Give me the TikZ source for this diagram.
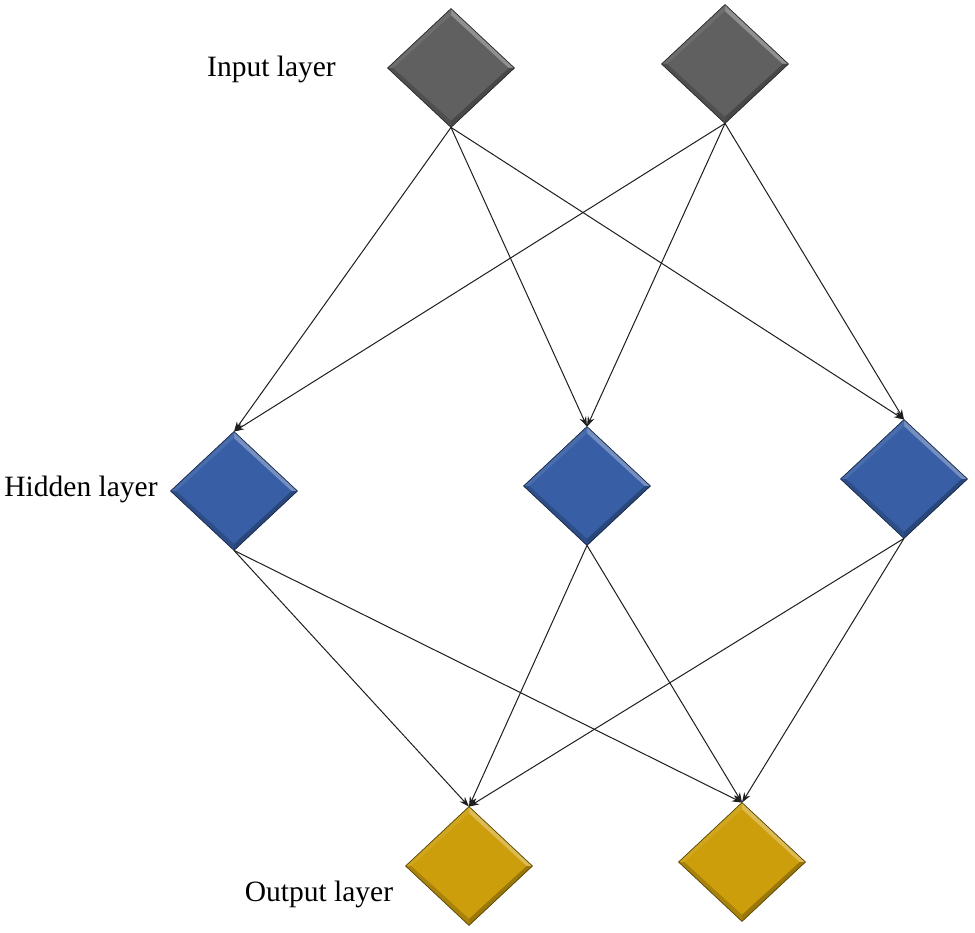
\documentclass[tikz,border=0pt]{standalone}
\usepackage{fontspec}
\setmainfont{Liberation Serif}
\usetikzlibrary{shapes.geometric,arrows.meta,calc}
\definecolor{gemgray}{RGB}{96,96,96}
\definecolor{gemblue}{RGB}{56,95,165}
\definecolor{gemgold}{RGB}{205,158,12}
\definecolor{linkcol}{RGB}{30,30,30}
\tikzset{
  gem/.style={diamond, minimum width=126pt, minimum height=118pt, inner sep=0pt, fill=#1, draw=#1!55!black, line width=0.8pt},
  link/.style={draw=linkcol, line width=1pt, -{Stealth[length=10pt,width=7pt]}},
  lbl/.style={anchor=base, font=\fontsize{29.5}{34}\selectfont, inner sep=0pt}
}
\newcommand{\gembevel}[2]{%
  \coordinate (#1-in) at ($(#1.center)!0.89!(#1.north)$);
  \coordinate (#1-ie) at ($(#1.center)!0.91!(#1.east)$);
  \coordinate (#1-is) at ($(#1.center)!0.89!(#1.south)$);
  \coordinate (#1-iw) at ($(#1.center)!0.91!(#1.west)$);
  \fill[#2!70!white] (#1.north) -- (#1.east) -- (#1-ie) -- (#1-in) -- cycle;
  \fill[#2!92!white] (#1.west) -- (#1.north) -- (#1-in) -- (#1-iw) -- cycle;
  \fill[#2!75!black] (#1.east) -- (#1.south) -- (#1-is) -- (#1-ie) -- cycle;
  \fill[#2!82!black] (#1.south) -- (#1.west) -- (#1-iw) -- (#1-is) -- cycle;
  \draw[#2!45!black, line width=0.7pt] (#1.north) -- (#1.east) -- (#1.south) -- (#1.west) -- cycle;
}
\begin{document}
\begin{tikzpicture}[x=1pt, y=-1pt]
\useasboundingbox (0,0) rectangle (975,933);
\fill[white] (0,0) rectangle (975,933);
% nodes
\node[gem=gemgray] (i1) at (451,68) {};
\node[gem=gemgray] (i2) at (725,64) {};
\node[gem=gemblue] (h1) at (234,491) {};
\node[gem=gemblue] (h2) at (587,486) {};
\node[gem=gemblue] (h3) at (904,479) {};
\node[gem=gemgold] (o1) at (469,866) {};
\node[gem=gemgold] (o2) at (742,862) {};
\gembevel{i1}{gemgray}
\gembevel{i2}{gemgray}
\gembevel{h1}{gemblue}
\gembevel{h2}{gemblue}
\gembevel{h3}{gemblue}
\gembevel{o1}{gemgold}
\gembevel{o2}{gemgold}
% labels
\node[lbl] (tin) at (271.5,77) {Input layer};
\node[lbl] (thid) at (81,496) {Hidden layer};
\node[lbl] (tout) at (319,901) {Output layer};
% connectors
\foreach \s in {i1,i2}{
  \foreach \t in {h1,h2,h3}{
    \draw[link] (\s.south) -- (\t.north);
  }
}
\foreach \s in {h1,h2,h3}{
  \foreach \t in {o1,o2}{
    \draw[link] (\s.south) -- (\t.north);
  }
}
\end{tikzpicture}
\end{document}
